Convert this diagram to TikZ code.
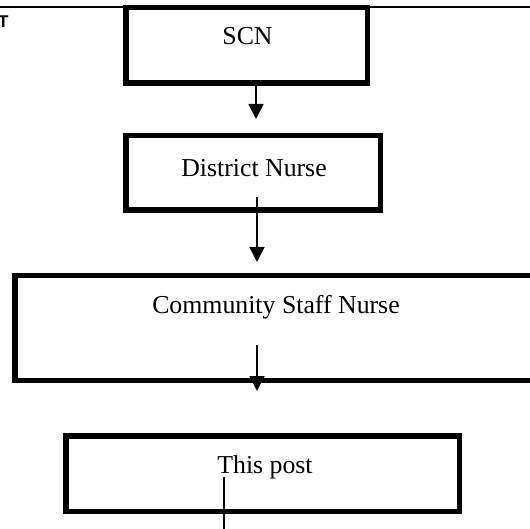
\documentclass[tikz,border=0pt]{standalone}
\usepackage{fontspec}
\setmainfont{Liberation Serif}
\newfontfamily\hdrfont{Liberation Sans}
\usetikzlibrary{arrows.meta}
\tikzset{
  boxnode/.style={draw=black, fill=white, line width=5.5pt, rectangle, inner sep=0pt},
  labeltext/.style={anchor=base, inner sep=0pt, font=\fontsize{25.8}{30}\selectfont},
  flowarrow/.style={line width=1.5pt, -{Triangle[width=15pt,length=15pt]}},
  plainline/.style={line width=1.5pt}
}
\begin{document}
\begin{tikzpicture}[x=1pt,y=-1pt]
\useasboundingbox (0,0) rectangle (530,529);
\clip (0,0) rectangle (530,529);
% header rule and cut-off heading
\coordinate (ruleL) at (0,7);
\coordinate (ruleR) at (530,7);
\draw[line width=1.6pt] (ruleL) -- (ruleR);
\node[anchor=base west, inner sep=0pt, font=\hdrfont\bfseries\fontsize{17}{20}\selectfont] (hdr) at (-2,27.5) {T};
% boxes
\node[boxnode, minimum width=241.5pt, minimum height=75.5pt] (scn) at (246.5,45.5) {};
\node[boxnode, minimum width=254.5pt, minimum height=74.5pt] (dn) at (253,173) {};
\node[boxnode, minimum width=527.5pt, minimum height=104.5pt] (csn) at (278.5,328) {};
\node[boxnode, minimum width=393.5pt, minimum height=75.5pt] (tp) at (262.5,473.5) {};
% texts
\node[labeltext] (scnt) at (247.5,45) {SCN};
\node[labeltext] (dnt) at (254,176.5) {District Nurse};
\node[labeltext] (csnt) at (276,313.5) {Community Staff Nurse};
\node[labeltext] (tpt) at (265,473) {This post};
% connectors
\coordinate (a1s) at (256,86);
\coordinate (a1e) at (256,119);
\coordinate (a2s) at (257,197);
\coordinate (a2e) at (257,262);
\coordinate (a3s) at (257,345);
\coordinate (a3e) at (257,391);
\coordinate (l4s) at (224,477);
\coordinate (l4e) at (224,535);
\draw[flowarrow] (a1s) -- (a1e);
\draw[flowarrow] (a2s) -- (a2e);
\draw[flowarrow] (a3s) -- (a3e);
\draw[plainline] (l4s) -- (l4e);
\end{tikzpicture}
\end{document}
